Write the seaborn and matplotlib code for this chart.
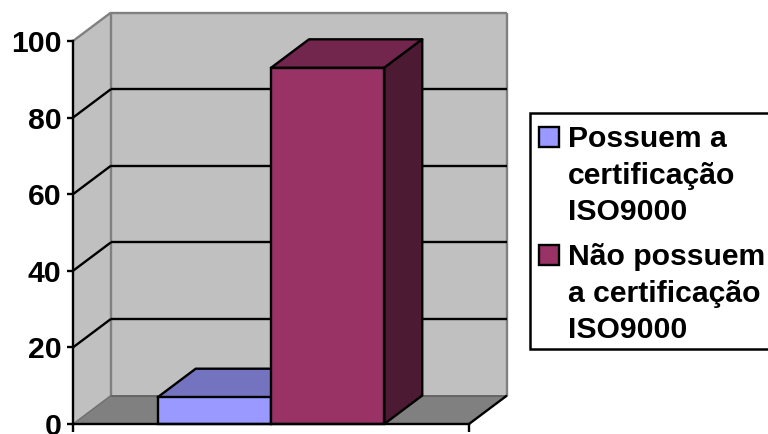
import matplotlib
matplotlib.use("Agg")
import matplotlib.pyplot as plt
from matplotlib.patches import Polygon, Rectangle
from matplotlib.colors import to_rgb
import pandas as pd
import seaborn as sns

# Survey result: share of companies with and without the certification
group = ["ISO9000"]
series_names = ["Possuem a\ncertificação\nISO9000", "Não possuem\na certificação\nISO9000"]
series_values = [7, 93]
series_colors = ["#9999FF", "#993366"]
y_ticks = [0, 20, 40, 60, 80, 100]

W, H, DPI = 768, 434, 100
LEFT, RIGHT, TOP, BOTTOM = 73.0, 469.0, 41.0, 424.0
LW = 1.7
GREY = "#808080"
WALL = "#C0C0C0"
FONT = 21.7

sns.set_theme(style="white")
plt.rcParams["font.family"] = ["Liberation Sans", "DejaVu Sans"]
plt.rcParams["font.weight"] = "bold"

fig = plt.figure(figsize=(W / DPI, H / DPI), dpi=DPI, facecolor="white")
ax = fig.add_axes([LEFT / W, 1 - BOTTOM / H, (RIGHT - LEFT) / W, (BOTTOM - TOP) / H])
ax.patch.set_alpha(0)

df = pd.DataFrame({"grupo": group * 2, "serie": series_names, "valor": series_values})
sns.barplot(
    data=df, x="grupo", y="valor", hue="serie", hue_order=series_names,
    palette=series_colors, saturation=1, width=0.572, gap=0,
    edgecolor="black", linewidth=LW, ax=ax, zorder=5, legend=False,
)

ax.set_xlim(-0.5, 0.5)
ax.set_ylim(0, 100)

# Oblique offset of the depth axis, in data units
dx = 38.0 / (RIGHT - LEFT)
dy = 28.5 / ((BOTTOM - TOP) / 100)


def face(points, fill, edge=None, lw=LW, z=1):
    ax.add_patch(Polygon(points, closed=True, facecolor=fill, edgecolor=edge or "none",
                         linewidth=lw, clip_on=False, zorder=z, joinstyle="round"))


def line(xs, ys, color="black", lw=LW, z=2):
    ax.plot(xs, ys, color=color, lw=lw, clip_on=False, zorder=z, solid_capstyle="butt")


x0, x1 = ax.get_xlim()
ymax = y_ticks[-1]

# Walls and floor
face([(x0 + dx, dy), (x1 + dx, dy), (x1 + dx, ymax + dy), (x0 + dx, ymax + dy)], WALL)
face([(x0, 0), (x0 + dx, dy), (x0 + dx, ymax + dy), (x0, ymax)], WALL)
face([(x0, 0), (x1, 0), (x1 + dx, dy), (x0 + dx, dy)], GREY)
line([x0, x0 + dx], [ymax, ymax + dy], GREY)
line([x0 + dx, x1 + dx], [ymax + dy, ymax + dy], GREY)
line([x1 + dx, x1 + dx], [dy, ymax + dy], GREY)
line([x0 + dx, x0 + dx], [dy, ymax + dy], GREY)
line([x0 + dx, x1 + dx], [dy, dy], "#5F5F5F", lw=1.2)
line([x0, x0 + dx], [0, dy], "#6E6E6E", lw=1.0)
line([x1, x1 + dx], [0, dy], "black")

# Gridlines run along the side wall and then across the back wall
for tick in y_ticks[1:-1]:
    line([x0, x0 + dx], [tick, tick + dy])
    line([x0 + dx, x1 + dx], [tick + dy, tick + dy])

# Top and side faces of each bar
for order, container in enumerate(ax.containers):
    for bar in container:
        bx, bw, bh = bar.get_x(), bar.get_width(), bar.get_height()
        rgb = to_rgb(bar.get_facecolor()[:3])
        shade = lambda k: tuple(c * k for c in rgb)
        z = 3 + order
        bar.set_zorder(z + 0.5)
        bar.set_clip_on(False)
        face([(bx, bh), (bx + bw, bh), (bx + bw + dx, bh + dy), (bx + dx, bh + dy)],
             shade(0.75), "black", z=z)
        face([(bx + bw, 0), (bx + bw + dx, dy), (bx + bw + dx, bh + dy), (bx + bw, bh)],
             shade(0.5), "black", z=z)

# Axis lines and ticks
sns.despine(ax=ax)
for side in ("left", "bottom"):
    ax.spines[side].set_color("black")
    ax.spines[side].set_linewidth(LW)
    ax.spines[side].set_zorder(8)
ax.set_xticks([x0, x1], ["", ""])
ax.set_yticks(y_ticks)
ax.tick_params(axis="y", left=True, length=4.5, width=LW, pad=4, labelsize=FONT, colors="black")
ax.tick_params(axis="x", bottom=True, length=6, width=LW, colors="black")
ax.set_xlabel("")
ax.set_ylabel("")

# Legend box runs off the right-hand side of the figure
fig.add_artist(Rectangle((529.5 / W, 1 - 349 / H), 300 / W, 236 / H, transform=fig.transFigure,
                         facecolor="white", edgecolor="black", linewidth=1.8))
swatch_tops = [127, 245]
for name, color, top in zip(series_names, series_colors, swatch_tops):
    fig.add_artist(Rectangle((539 / W, 1 - (top + 20) / H), 19.5 / W, 20 / H,
                             transform=fig.transFigure, facecolor=color,
                             edgecolor="black", linewidth=LW))
    fig.text(568 / W, 1 - (top - 2) / H, name, fontsize=FONT, fontweight="bold",
             color="black", va="top", ha="left", linespacing=1.39,
             family=["Liberation Sans", "DejaVu Sans"])

fig.savefig("out.png", dpi=DPI)
